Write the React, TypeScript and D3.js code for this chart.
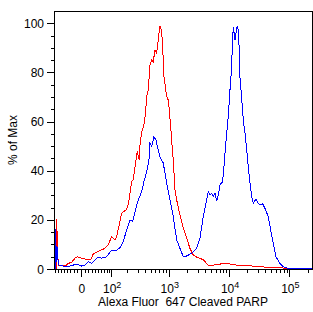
import React, { useEffect, useRef } from 'react';
import * as d3 from 'd3';

// Histogram overlays: Alexa Fluor 647 intensity vs % of max
const redIntensity = [-74.7, -74.7, -72.4, -68.6, -51, -40.1, -35.3, -25.4, -16.2, -9.9, -2.7, 6.2, 19.8, 26.5, 34.1, 44.5, 55.4, 73.5, 86.9, 102, 119, 128, 158, 189, 207, 238, 253, 278, 296, 321, 329, 352, 385, 411, 427, 455, 485, 518, 551, 589, 628, 668, 694, 713, 761, 791, 831, 874, 922, 980, 1018, 1075, 1117, 1187, 1266, 1352, 1533, 1740, 1981, 2247, 2549, 2902, 3292, 3734, 4522, 5472, 7066, 8652, 11049, 13374, 22222, 42049, 79240, 90200, 237000];
const redPercent = [0, 20.4, 11.8, 1.6, 1.6, 1.6, 2.3, 2.7, 4.4, 5.0, 4.6, 4.1, 4.0, 3.7, 6.1, 6.8, 7.5, 8.4, 9.8, 13.2, 11.8, 13.2, 22.7, 24.0, 26.1, 35.6, 36.3, 43.1, 47.8, 44.4, 50.2, 55.9, 58.7, 64.1, 70.2, 72.9, 83.1, 85.1, 84.4, 89.2, 87.9, 93.3, 96.7, 99, 96.7, 89.9, 78.3, 74.3, 70.2, 68.8, 64.8, 58.0, 51.9, 44.4, 32.2, 28.1, 22.0, 16.6, 12.5, 8.4, 5.7, 4.8, 4.4, 3.7, 1.6, 1.6, 2.0, 2.3, 1.9, 1.6, 1.3, 0.7, 0.4, 0.2, 0.2];

const blueIntensity = [-79, -78.6, -76, -72.4, -68.6, -64.9, -51, -30.3, -20.9, -9.9, 1.9, 10.7, 19.8, 29.4, 39.2, 49.7, 61.3, 80.3, 102, 128, 147, 169, 194, 222, 247, 271, 308, 352, 385, 427, 467, 485, 518, 566, 612, 643, 713, 809, 922, 1046, 1187, 1352, 1533, 1740, 1981, 2398, 2902, 3292, 3734, 4252, 4522, 4823, 5147, 5472, 5838, 6230, 6622, 7066, 7833, 8232, 8652, 9128, 9702, 10353, 10633, 11049, 11480, 11746, 12533, 13020, 13685, 14217, 14770, 15169, 16187, 17206, 18361, 19593, 21637, 23713, 25207, 27944, 30509, 32556, 36092, 39406, 44696, 48986, 54075, 59950, 69860, 79240, 90200, 237000];
const bluePercent = [0, 16.3, 3.0, 9.1, 2.0, 1.6, 1.2, 1.2, 1.6, 2.0, 1.2, 1.6, 3.0, 2.3, 3.7, 4.8, 4.4, 5.0, 7.7, 7.7, 8.7, 11.1, 15.9, 20.0, 19.3, 23.3, 28.1, 31.5, 35.6, 39.6, 44.4, 51.2, 49.8, 53.9, 52.5, 49.8, 45.7, 43.1, 34.9, 28.1, 21.3, 11.8, 8.4, 5.0, 5.3, 6.4, 8.4, 12.5, 21.3, 28.1, 31.5, 30.1, 30.8, 29.5, 30.8, 27.8, 30.1, 34.2, 35.6, 41.7, 48.5, 55.3, 62.0, 72.9, 75.6, 83.8, 94.0, 98.5, 93.3, 96.0, 99, 97.4, 89.2, 77.7, 69.5, 60.7, 55.3, 48.5, 37.6, 29.5, 26.8, 28.4, 26.8, 26.1, 26.5, 24.7, 21.3, 15.9, 10.5, 5.0, 2.3, 0.9, 0.4, 0.4];

// Axis ticks
const xMajorTicks = [0, 100, 1000, 10000, 100000];
const xTickBase = ['0', '10', '10', '10', '10'];
const xTickExp = ['', '2', '3', '4', '5'];
const yMajorTicks = [0, 20, 40, 60, 80, 100];

const WIDTH = 313;
const HEIGHT = 312;
const FONT = '"Liberation Sans", Arial, sans-serif';

// biexponential-style display transform (asinh with a linear region around 0)
const COFACTOR = 70;
const biex = (v: number) => Math.asinh(v / COFACTOR);

const App: React.FC = () => {
  const svgRef = useRef<SVGSVGElement>(null);

  useEffect(() => {
    if (!svgRef.current) return;
    const svg = d3.select(svgRef.current);
    svg.selectAll('*').remove();

    const left = 54;
    const right = 312;
    const top = 11;
    const bottom = 269;

    const xLin = d3.scaleLinear().domain([biex(-85.5), biex(237300)]).range([left, right]);
    const x = (v: number) => xLin(biex(v));
    const y = d3.scaleLinear().domain([0, 105]).range([bottom, top]);

    svg.append('rect').attr('width', WIDTH).attr('height', HEIGHT).attr('fill', '#fff');

    const line = d3.line<[number, number]>()
      .x(d => x(d[0]))
      .y(d => y(d[1]));

    const red = redIntensity.map((v, i) => [v, redPercent[i]] as [number, number]);
    const blue = blueIntensity.map((v, i) => [v, bluePercent[i]] as [number, number]);

    svg.append('path')
      .datum(red)
      .attr('d', line)
      .attr('fill', 'none')
      .attr('stroke', '#ff0000')
      .attr('stroke-width', 1)
      .attr('shape-rendering', 'crispEdges');

    svg.append('path')
      .datum(blue)
      .attr('d', line)
      .attr('fill', 'none')
      .attr('stroke', '#0000ff')
      .attr('stroke-width', 1)
      .attr('shape-rendering', 'crispEdges');

    // frame
    const frame = svg.append('g')
      .attr('stroke', '#000')
      .attr('stroke-width', 1)
      .attr('shape-rendering', 'crispEdges');
    frame.append('line').attr('x1', left + 0.5).attr('x2', left + 0.5).attr('y1', top).attr('y2', bottom + 1);
    frame.append('line').attr('x1', left).attr('x2', right + 1).attr('y1', bottom + 0.5).attr('y2', bottom + 0.5);
    frame.append('line').attr('x1', left).attr('x2', right + 1).attr('y1', top + 0.5).attr('y2', top + 0.5);
    frame.append('line').attr('x1', right + 0.5).attr('x2', right + 0.5).attr('y1', top).attr('y2', bottom + 1);

    // y ticks
    const yMinor = d3.range(5, 100, 5).filter(v => v % 20 !== 0);
    yMajorTicks.forEach(v => {
      frame.append('line')
        .attr('x1', left - 7).attr('x2', left)
        .attr('y1', Math.round(y(v)) + 0.5).attr('y2', Math.round(y(v)) + 0.5);
      svg.append('text')
        .attr('x', 44)
        .attr('y', y(v) + 4.5)
        .attr('text-anchor', 'end')
        .attr('font-family', FONT)
        .attr('font-size', 12)
        .attr('fill', '#000')
        .text(v);
    });
    yMinor.forEach(v => {
      frame.append('line')
        .attr('x1', left - 3).attr('x2', left)
        .attr('y1', Math.round(y(v)) + 0.5).attr('y2', Math.round(y(v)) + 0.5);
    });

    // x ticks
    const xMinor: number[] = [
      ...d3.range(-80, 0, 10),
      ...d3.range(10, 100, 10),
      ...d3.range(200, 1000, 100),
      ...d3.range(2000, 10000, 1000),
      ...d3.range(20000, 100000, 10000),
      200000,
    ];
    xMinor.forEach(v => {
      const px = Math.round(x(v)) + 0.5;
      frame.append('line').attr('x1', px).attr('x2', px).attr('y1', bottom).attr('y2', bottom + 4);
    });
    xMajorTicks.forEach((v, i) => {
      const px = Math.round(x(v)) + 0.5;
      frame.append('line').attr('x1', px).attr('x2', px).attr('y1', bottom).attr('y2', bottom + 8);
      const t = svg.append('text')
        .attr('x', x(v) + (xTickExp[i] ? 1 : 1))
        .attr('y', 293)
        .attr('text-anchor', 'middle')
        .attr('font-family', FONT)
        .attr('font-size', 12)
        .attr('fill', '#000');
      t.append('tspan').text(xTickBase[i]);
      if (xTickExp[i]) {
        t.append('tspan')
          .attr('dy', -5.5)
          .attr('font-size', 9)
          .text(xTickExp[i]);
      }
    });

    // axis titles
    svg.append('text')
      .attr('x', (left + right) / 2)
      .attr('y', 306)
      .attr('text-anchor', 'middle')
      .attr('font-family', FONT)
      .attr('font-size', 12)
      .attr('fill', '#000')
      .attr('xml:space', 'preserve')
      .style('white-space', 'pre')
      .text('Alexa Fluor  647 Cleaved PARP');

    svg.append('text')
      .attr('transform', `translate(16.5, ${(top + bottom) / 2}) rotate(-90)`)
      .attr('text-anchor', 'middle')
      .attr('font-family', FONT)
      .attr('font-size', 12)
      .attr('fill', '#000')
      .text('% of Max');
  }, []);

  return (
    <svg
      ref={svgRef}
      width={WIDTH}
      height={HEIGHT}
      style={{ position: 'absolute', left: 0, top: 0, display: 'block' }}
    />
  );
};

export default App;
